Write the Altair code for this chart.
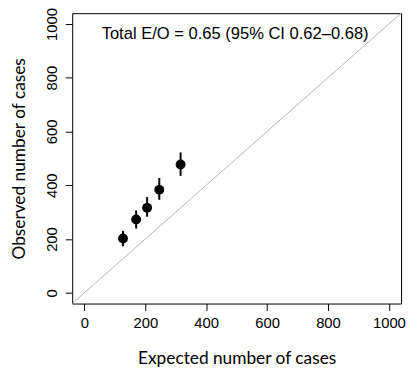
import altair as alt
import pandas as pd

expected = [127, 170, 206, 246, 316]
observed = [202, 273, 316, 383, 477]
lower = [173, 239, 283, 346, 435]
upper = [230, 306, 356, 427, 522]

diag_vals = [-40, 1040]
tick_vals = [0, 200, 400, 600, 800, 1000]
annotation = "Total E/O = 0.65 (95% CI 0.62\u20130.68)"
ann_x = [495]
ann_y = [945]

df = pd.DataFrame({"e": expected, "o": observed, "lo": lower, "hi": upper})
diag = pd.DataFrame({"a": diag_vals, "b": diag_vals})
ann = pd.DataFrame({"x": ann_x, "y": ann_y, "t": [annotation]})

xs = alt.Scale(domain=[-40, 1040], nice=False, zero=False)
ys = alt.Scale(domain=[-40, 1040], nice=False, zero=False)

xaxis = alt.Axis(values=tick_vals, format="d", title="Expected number of cases", domain=False, grid=False,
                 tickColor="black", tickSize=7, labelFont="Liberation Sans", labelFontSize=15,
                 labelColor="black", labelPadding=5, titleFont="Lato", titleFontSize=17.5,
                 titleFontWeight="normal", titleColor="black", titleBaseline="alphabetic",
                 titleY=61)
yaxis = alt.Axis(values=tick_vals, format="d", title="Observed number of cases", domain=False, grid=False,
                 tickColor="black", tickSize=7, labelFont="Liberation Sans", labelFontSize=15,
                 labelColor="black", labelAngle=270, labelAlign="center", labelBaseline="alphabetic",
                 labelPadding=9, titleFont="Lato", titleFontSize=17.5, titleFontWeight="normal",
                 titleColor="black", titleAngle=270, titleAlign="center", titleBaseline="alphabetic",
                 titleX=-48, titleY=147)

line = alt.Chart(diag).mark_line(color="#B4B4B4", strokeWidth=1).encode(
    x=alt.X("a:Q", scale=xs, axis=xaxis, title="Expected number of cases"),
    y=alt.Y("b:Q", scale=ys, axis=yaxis, title="Observed number of cases"))

bars = alt.Chart(df).mark_rule(color="black", strokeWidth=2).encode(
    x=alt.X("e:Q", scale=xs, axis=xaxis, title="Expected number of cases"),
    y=alt.Y("lo:Q", scale=ys, axis=yaxis, title="Observed number of cases"), y2="hi:Q")

pts = alt.Chart(df).mark_point(filled=True, color="black", size=100, opacity=1, shape="circle").encode(
    x=alt.X("e:Q", scale=xs, axis=xaxis, title="Expected number of cases"),
    y=alt.Y("o:Q", scale=ys, axis=yaxis, title="Observed number of cases"))

txt = alt.Chart(ann).mark_text(font="Liberation Sans", fontSize=16.75, color="black",
                               align="center", baseline="alphabetic").encode(
    x=alt.X("x:Q", scale=xs, axis=xaxis, title="Expected number of cases"),
    y=alt.Y("y:Q", scale=ys, axis=yaxis, title="Observed number of cases"), text="t:N")

chart = alt.layer(line, bars, pts, txt).properties(
    width=333, height=294,
    autosize=alt.AutoSizeParams(type="none"),
    padding={"left": 65, "top": 3, "right": 5, "bottom": 62},
    background="white",
).configure_view(stroke="black", strokeWidth=1)

chart.save("out.html", embed_options={"renderer": "svg", "actions": False})
